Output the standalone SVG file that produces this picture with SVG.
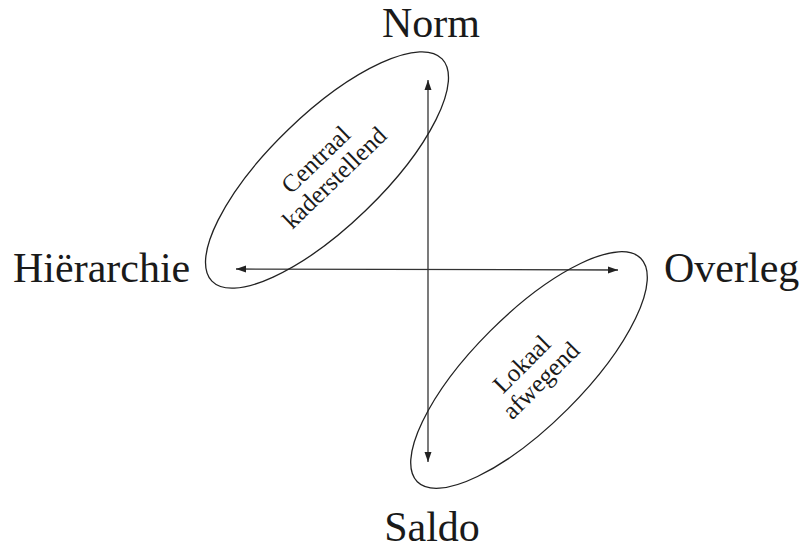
<svg xmlns="http://www.w3.org/2000/svg" width="807" height="550" viewBox="0 0 807 550">
<style>
.lbl{font-family:"Liberation Serif","Times New Roman",serif;font-size:42px;fill:#1a1a1a}
.small{font-family:"Liberation Serif","Times New Roman",serif;font-size:25px;fill:#1a1a1a;text-anchor:middle}
.ell{fill:none;stroke:#222;stroke-width:1.3}
.axis{stroke:#333;stroke-width:1.3;fill:none}
</style>
<defs>
<marker id="ah" markerUnits="userSpaceOnUse" markerWidth="12" markerHeight="10" refX="10" refY="5" orient="auto-start-reverse">
<path d="M0,1.5 L10,5 L0,8.5 Z" fill="#222"/>
</marker>
</defs>
<rect width="807" height="550" fill="#fff"/>
<g id="connectors">
<line class="axis" x1="428" y1="80" x2="428" y2="462" marker-start="url(#ah)" marker-end="url(#ah)"/>
<line class="axis" x1="236" y1="269" x2="618" y2="270" marker-start="url(#ah)" marker-end="url(#ah)"/>
</g>
<g id="norm"><text class="lbl" x="431" y="37" text-anchor="middle">Norm</text></g>
<g id="saldo"><text class="lbl" x="432" y="541" text-anchor="middle">Saldo</text></g>
<g id="hierarchie"><text class="lbl" x="13" y="282">Hiërarchie</text></g>
<g id="overleg"><text class="lbl" x="664" y="282">Overleg</text></g>
<g id="centraal" transform="translate(327,170) rotate(-44)">
<ellipse class="ell" cx="0" cy="0" rx="160" ry="56"/>
<text class="small" x="-1" y="-7">Centraal</text>
<text class="small" x="0" y="19">kaderstellend</text>
</g>
<g id="lokaal" transform="translate(529,370) rotate(-45)">
<ellipse class="ell" cx="0" cy="0" rx="158" ry="55"/>
<text class="small" x="-1" y="-1">Lokaal</text>
<text class="small" x="1" y="24">afwegend</text>
</g>
</svg>
